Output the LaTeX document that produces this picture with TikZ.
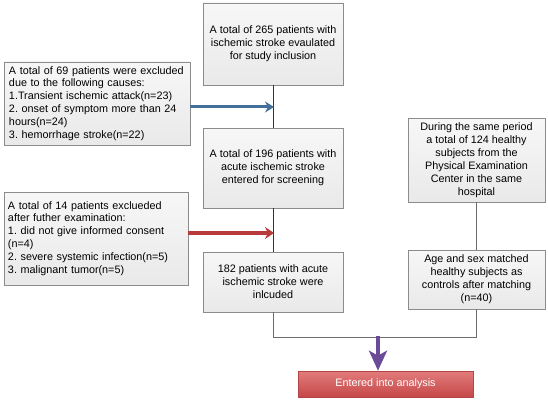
\documentclass[tikz,border=0pt]{standalone}
\usepackage{fontspec}
\setmainfont{Liberation Sans}
\usetikzlibrary{arrows.meta,shadows}
\definecolor{boxline}{HTML}{8C8C8C}
\definecolor{boxtop}{HTML}{F7F7F7}
\definecolor{boxbot}{HTML}{E9E9E9}
\definecolor{bluearr}{HTML}{44719A}
\definecolor{redarr}{HTML}{B93A3A}
\definecolor{purarr}{HTML}{6B4A97}
\definecolor{anatop}{HTML}{E27C7C}
\definecolor{anabot}{HTML}{C64848}
\definecolor{analine}{HTML}{B54545}
\begin{document}
\begin{tikzpicture}[x=1pt,y=-1pt,
  txt/.style={font=\fontsize{10.8}{12.9}\selectfont\frenchspacing},
  gbox/.style={txt, draw=boxline, line width=0.8pt, top color=boxtop, bottom color=boxbot,
    inner sep=0pt, align=center,
    drop shadow={shadow xshift=1pt, shadow yshift=-1pt, opacity=0.15, fill=black}},
  lbox/.style={gbox, align=left, text width=176pt},
  conn/.style={draw=black!80, line width=0.8pt},
  gconn/.style={draw=gray!85!black, line width=0.8pt},
  bluearrow/.style={draw=bluearr, line width=3pt, -{Stealth[length=9pt,width=11pt,inset=3pt]}},
  redarrow/.style={draw=redarr, line width=3.5pt, -{Stealth[length=9pt,width=12pt,inset=3pt]}},
  purarrow/.style={draw=purarr, line width=4pt, -{Stealth[length=20pt,width=18pt,inset=5pt]}},
  anabox/.style={txt, text=white, draw=analine, line width=0.6pt, top color=anatop, bottom color=anabot,
    inner sep=0pt, minimum width=175pt, minimum height=26pt,
    drop shadow={shadow xshift=1pt, shadow yshift=-1pt, opacity=0.15, fill=black}}
]
\fill[white] (0,0) rectangle (548,401);
\useasboundingbox (0,0) rectangle (548,401);

% main column
\node[gbox, minimum width=140pt, minimum height=82pt] (top) at (273,44)
  {A total of 265 patients with\\ischemic stroke evaulated\\for study inclusion};
\node[gbox, minimum width=140pt, minimum height=80pt] (mid) at (273,168)
  {A total of 196 patients with\\acute ischemic stroke\\entered for screening};
\node[gbox, minimum width=140pt, minimum height=60pt] (inc) at (273,282)
  {182 patients with acute\\ischemic stroke were\\inlcuded};

% exclusion boxes
\node[lbox, minimum width=186pt, minimum height=83pt] (exc1) at (97,103.5)
  {A total of 69 patients were excluded\\due to the following causes:\\1.Transient ischemic attack(n=23)\\2. onset of symptom more than 24\\hours(n=24)\\3. hemorrhage stroke(n=22)};
\node[lbox, minimum width=184pt, minimum height=93pt] (exc2) at (96,238.5)
  {A total of 14 patients exclueded\\after futher examination:\\1. did not give informed consent\\(n=4)\\2. severe systemic infection(n=5)\\3. malignant tumor(n=5)};

% control boxes
\node[gbox, minimum width=137pt, minimum height=84pt] (ctl1) at (476.5,160)
  {During the same period\\a total of 124 healthy\\subjects from the\\Physical Examination\\Center in the same\\hospital};
\node[gbox, minimum width=137pt, minimum height=59pt] (ctl2) at (476.5,279.5)
  {Age and sex matched\\healthy subjects as\\controls after matching\\(n=40)};

% analysis box
\node[anabox] (ana) at (385.5,384) {Entered into analysis};

% connectors
\draw[conn] (top) -- (mid);
\draw[conn] (mid) -- (inc);
\draw[gconn] (ctl1) -- (ctl2);
\coordinate (b) at (274,107);
\draw[bluearrow] (exc1.east |- b) -- (b);
\coordinate (r) at (274,233);
\draw[redarrow] (exc2.east |- r) -- (r);
\draw[gconn] (inc.south) -- ++(0,25) -| (ctl2.south);
\coordinate (p) at (378,336);
\draw[purarrow] (p) -- (p |- ana.north);
\end{tikzpicture}
\end{document}
